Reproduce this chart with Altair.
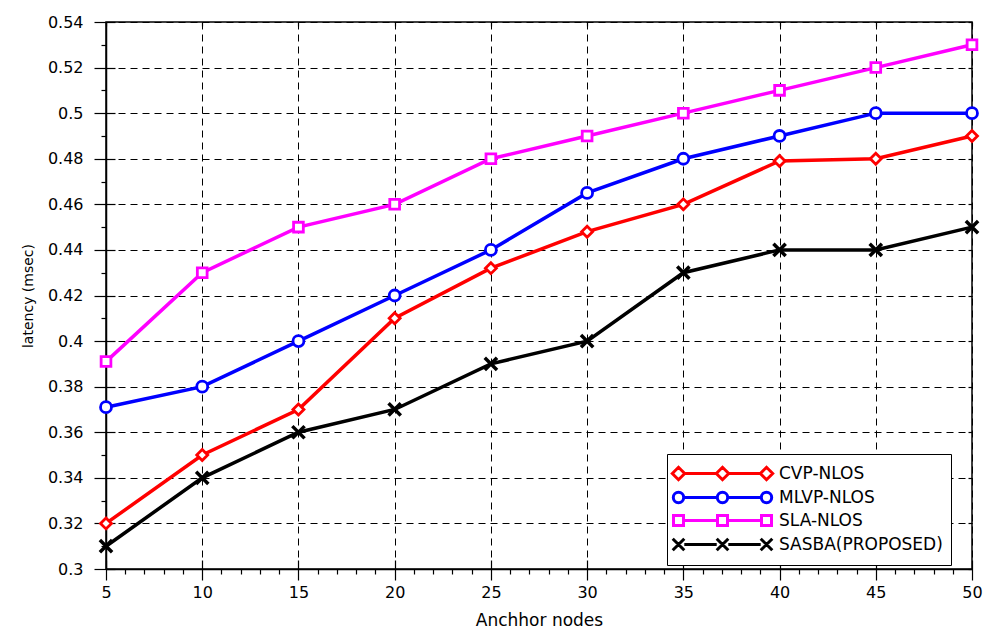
import altair as alt
import pandas as pd

# ---------------- data ----------------
NODES = [5, 10, 15, 20, 25, 30, 35, 40, 45, 50]
SERIES = ["CVP-NLOS", "MLVP-NLOS", "SLA-NLOS", "SASBA(PROPOSED)"]
CVP = [0.32, 0.35, 0.37, 0.41, 0.432, 0.448, 0.46, 0.479, 0.48, 0.49]
MLVP = [0.371, 0.38, 0.40, 0.42, 0.44, 0.465, 0.48, 0.49, 0.50, 0.50]
SLA = [0.391, 0.43, 0.45, 0.46, 0.48, 0.49, 0.50, 0.51, 0.52, 0.53]
SASBA = [0.31, 0.34, 0.36, 0.37, 0.39, 0.40, 0.43, 0.44, 0.44, 0.45]
X_TICKS = list(range(5, 51))
X_MAJOR = [5, 10, 15, 20, 25, 30, 35, 40, 45, 50]
Y_TICKS = [0.30, 0.31, 0.32, 0.33, 0.34, 0.35, 0.36, 0.37, 0.38, 0.39, 0.40,
           0.41, 0.42, 0.43, 0.44, 0.45, 0.46, 0.47, 0.48, 0.49, 0.50, 0.51,
           0.52, 0.53, 0.54]
Y_MAJOR = [0.30, 0.32, 0.34, 0.36, 0.38, 0.40, 0.42, 0.44, 0.46, 0.48, 0.50,
           0.52, 0.54]

COLORS = ["#ff0000", "#0000ff", "#ff00ff", "#000000"]

rows = []
for name, vals in zip(SERIES, [CVP, MLVP, SLA, SASBA]):
    for n, v in zip(NODES, vals):
        rows.append({"nodes": n, "latency": v, "series": name})
df = pd.DataFrame(rows)

W, H = 866, 547

# ---------------- marker shapes ----------------
X_PATH = "M-1,-1L1,1M-1,1L1,-1"
PLOT_SHAPES = ["diamond", "circle", "square", X_PATH]
PLOT_SIZES = [120, 120, 95, 150]


def legend_path(kind):
    centers = [-4.4, 0.0, 4.4]
    h = {"diamond": 0.62, "circle": 0.52, "square": 0.5, "x": 0.58}[kind]
    parts = []
    for a, b in zip(centers[:-1], centers[1:]):
        parts.append(f"M{a + h:.2f},0L{b - h:.2f},0")
    for c in centers:
        if kind == "diamond":
            parts.append(f"M{c - h:.2f},0L{c:.2f},{-h:.2f}L{c + h:.2f},0L{c:.2f},{h:.2f}Z")
        elif kind == "circle":
            parts.append(f"M{c - h:.2f},0A{h},{h} 0 1,0 {c + h:.2f},0A{h},{h} 0 1,0 {c - h:.2f},0Z")
        elif kind == "square":
            parts.append(f"M{c - h:.2f},{-h:.2f}L{c + h:.2f},{-h:.2f}L{c + h:.2f},{h:.2f}L{c - h:.2f},{h:.2f}Z")
        else:
            parts.append(f"M{c - h:.2f},{-h:.2f}L{c + h:.2f},{h:.2f}M{c - h:.2f},{h:.2f}L{c + h:.2f},{-h:.2f}")
    return "".join(parts)


LEGEND_SHAPES = [legend_path(k) for k in ["diamond", "circle", "square", "x"]]

FONT = "DejaVu Sans"

x_axis = alt.Axis(
    values=X_TICKS,
    title="Anchhor nodes",
    labelExpr="datum.value % 5 === 0 ? datum.label : ''",
    tickSize={"condition": {"test": "datum.value % 5 === 0", "value": 11}, "value": 5},
    gridOpacity={"condition": {"test": "datum.value % 5 === 0", "value": 1}, "value": 0},
    labelFlush=False,
    labelOverlap=False,
    labelPadding=4,
    titlePadding=12,
)
y_axis = alt.Axis(
    values=Y_TICKS,
    title="latency (msec)",
    labelExpr="round(datum.value*100) % 2 === 0 ? format(datum.value, '~g') : ''",
    tickSize={"condition": {"test": "round(datum.value*100) % 2 === 0", "value": 12}, "value": 5},
    gridOpacity={"condition": {"test": "round(datum.value*100) % 2 === 0", "value": 1}, "value": 0},
    labelFlush=False,
    labelOverlap=False,
    labelPadding=11,
    titlePadding=12,
    titleFontSize=14,
)


def tick_only(orient, values, size, offset):
    return alt.Axis(orient=orient, values=values, tickSize=size, offset=offset,
                    labels=False, domain=False, grid=False, title=None)


xs = alt.Scale(domain=[5, 50], nice=False, zero=False)
ys = alt.Scale(domain=[0.3, 0.54], nice=False, zero=False)

X_MAIN = alt.X("nodes:Q", scale=xs, axis=x_axis)
Y_MAIN = alt.Y("latency:Q", scale=ys, axis=y_axis)
X_NONE = alt.X("nodes:Q", scale=xs, axis=None)
Y_NONE = alt.Y("latency:Q", scale=ys, axis=None)
# inward halves of the crossing major ticks (bottom and left edges)
X_IN = alt.X("nodes:Q", scale=xs, axis=tick_only("top", X_MAJOR, 9, -H))
Y_IN = alt.Y("latency:Q", scale=ys, axis=tick_only("right", Y_MAJOR, 9, -W))
# small inward ticks on the top and right frame
X_TOP = alt.X("nodes:Q", scale=xs, axis=tick_only("bottom", X_MAJOR, 4, -H))
Y_RIGHT = alt.Y("latency:Q", scale=ys, axis=tick_only("left", Y_MAJOR, 4, -W))

AXES = [(X_MAIN, Y_MAIN), (X_IN, Y_IN), (X_TOP, Y_RIGHT), (X_NONE, Y_NONE)]

line_layers = []
point_layers = []
for i, (s, shp, sz, col) in enumerate(zip(SERIES, PLOT_SHAPES, PLOT_SIZES, COLORS)):
    sub = alt.Chart(df).transform_filter(alt.datum.series == s)
    ax, ay = AXES[i]
    line_layers.append(
        sub.mark_line(strokeWidth=3.5, stroke=col).encode(x=ax, y=ay, order="nodes:Q")
    )
    point_layers.append(
        sub.mark_point(
            shape=shp, size=sz, filled=True, fill="white", stroke=col,
            strokeWidth=3.5 if shp == X_PATH else 2.8, opacity=1,
        ).encode(x=X_NONE, y=Y_NONE)
    )

legend = alt.Legend(
    orient="none", legendX=561, legendY=432, title=None, direction="vertical",
    symbolSize=400, symbolStrokeWidth=3, symbolOffset=36, labelOffset=45,
    labelFont=FONT, labelFontSize=17, labelColor="black", labelLimit=400,
    labelExpr="datum.label + '    '",
    strokeColor="black", fillColor="white", padding=8, rowPadding=0,
)

legend_layer = alt.Chart(df).transform_filter("false").mark_point(
    filled=False, opacity=1, strokeWidth=3
).encode(
    x=X_NONE, y=Y_NONE,
    color=alt.Color("series:N", scale=alt.Scale(domain=SERIES, range=COLORS), legend=legend),
    shape=alt.Shape("series:N", scale=alt.Scale(domain=SERIES, range=LEGEND_SHAPES), legend=legend),
)

chart = alt.layer(*line_layers, *point_layers, legend_layer).resolve_axis(
    x="independent", y="independent"
).properties(
    width=W, height=H,
    padding={"left": 106, "top": 22, "right": 19, "bottom": 61},
    autosize=alt.AutoSizeParams(type="none"),
    background="white",
).configure_view(
    stroke="black", strokeWidth=1.5
).configure_axis(
    labelFont=FONT, labelFontSize=16, labelColor="black",
    titleFont=FONT, titleFontSize=17, titleColor="black", titleFontWeight="normal",
    domainColor="black", domainWidth=1.5, tickColor="black", tickWidth=1.2,
    gridColor="black", gridDash=[7, 5], gridWidth=1,
)

chart.save("out.html", embed_options={"renderer": "svg", "actions": False})
